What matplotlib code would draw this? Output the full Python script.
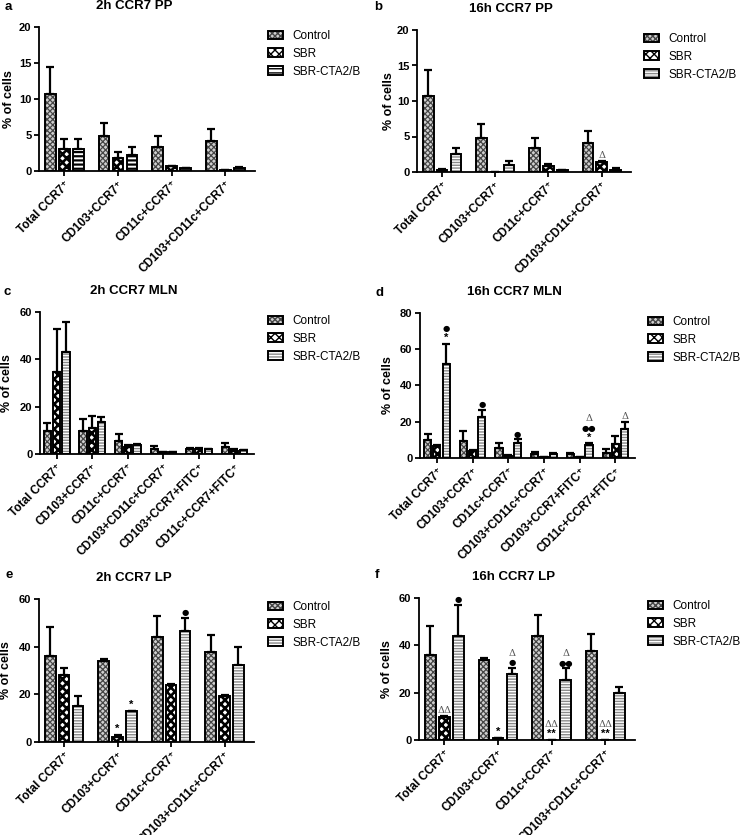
import numpy as np
import matplotlib as mpl
import matplotlib.pyplot as plt
from matplotlib.patches import Patch

plt.rcParams['font.family'] = ['Liberation Sans', 'DejaVu Sans']
plt.rcParams['hatch.linewidth'] = 1.0

# ---- data -------------------------------------------------------------
groups = ["Control", "SBR", "SBR-CTA2/B"]
cats4 = ["Total CCR7\u207a", "CD103+CCR7\u207a", "CD11c+CCR7\u207a", "CD103+CD11c+CCR7\u207a"]
cats6 = cats4 + ["CD103+CCR7+FITC\u207a", "CD11c+CCR7+FITC\u207a"]

# a: 2h CCR7 PP
a_ctrl = [10.7, 4.8, 3.4, 4.1];   a_ctrl_err = [3.7, 1.9, 1.45, 1.75]
a_sbr = [3.1, 1.75, 0.65, 0.15];  a_sbr_err = [1.35, 0.85, 0.1, 0.05]
a_cta = [3.1, 2.2, 0.35, 0.4];    a_cta_err = [1.35, 1.15, 0.1, 0.1]

# b: 16h CCR7 PP
b_ctrl = [10.7, 4.8, 3.4, 4.05];  b_ctrl_err = [3.7, 1.9, 1.45, 1.75]
b_sbr = [0.3, 0.0, 0.85, 1.45];   b_sbr_err = [0.15, 0.0, 0.25, 0.15]
b_cta = [2.5, 0.95, 0.3, 0.35];   b_cta_err = [0.95, 0.55, 0.05, 0.15]

# c: 2h CCR7 MLN
c_ctrl = [9.9, 9.7, 5.3, 2.0, 2.3, 3.0];   c_ctrl_err = [3.2, 4.9, 3.0, 1.5, 0.3, 1.8]
c_sbr = [34.5, 11.0, 3.0, 0.8, 2.3, 1.2];  c_sbr_err = [18.2, 5.0, 0.7, 0.2, 0.3, 1.1]
c_cta = [43.2, 13.4, 3.8, 0.8, 2.1, 1.5];  c_cta_err = [12.6, 2.2, 0.3, 0.1, 0.2, 0.3]

# d: 16h CCR7 MLN
d_ctrl = [10.1, 9.6, 5.3, 2.0, 2.3, 3.0];  d_ctrl_err = [2.9, 5.2, 3.0, 1.5, 0.3, 1.7]
d_sbr = [6.7, 4.0, 1.2, 0.5, 0.6, 7.5];    d_sbr_err = [0.5, 0.5, 0.3, 0.1, 0.1, 4.8]
d_cta = [52.0, 22.5, 8.5, 2.3, 7.2, 15.8]; d_cta_err = [11.0, 4.0, 1.8, 0.3, 1.0, 4.0]

# e: 2h CCR7 LP
e_ctrl = [36.0, 34.0, 44.0, 37.6]; e_ctrl_err = [12.2, 0.8, 8.7, 7.1]
e_sbr = [28.0, 2.3, 24.0, 19.3];   e_sbr_err = [3.0, 0.7, 0.5, 0.4]
e_cta = [15.2, 12.9, 46.5, 32.2];  e_cta_err = [4.0, 0.2, 5.5, 7.8]

# f: 16h CCR7 LP
f_ctrl = [36.0, 34.0, 44.0, 37.6]; f_ctrl_err = [12.3, 0.7, 8.8, 7.2]
f_sbr = [9.8, 0.8, 0.1, 0.1];      f_sbr_err = [0.4, 0.2, 0.0, 0.0]
f_cta = [44.0, 27.7, 25.4, 19.7];  f_cta_err = [13.2, 2.7, 4.9, 2.9]

# significance marks: (category, series, symbols bottom->top)
b_marks = [(3, 1, ["\u0394"])]
d_marks = [(0, 2, ["*", "\u25cf"]), (1, 2, ["\u25cf"]), (2, 2, ["\u25cf"]),
           (4, 2, ["*", "\u25cf\u25cf", "\u0394"]), (5, 2, ["\u0394"])]
e_marks = [(1, 1, ["*"]), (1, 2, ["*"]), (2, 2, ["\u25cf"])]
f_marks = [(0, 1, ["\u0394\u0394"]), (0, 2, ["\u25cf"]), (1, 1, ["*"]),
           (1, 2, ["\u25cf", "\u0394"]), (2, 1, ["**", "\u0394\u0394"]),
           (2, 2, ["\u25cf\u25cf", "\u0394"]), (3, 1, ["**", "\u0394\u0394"])]

W, H = 740, 835
fig = plt.figure(figsize=(W / 100, H / 100), dpi=100)


def px_axes(x0, y0, x1, y1):
    return fig.add_axes([x0 / W, 1 - y1 / H, (x1 - x0) / W, (y1 - y0) / H])


def styles(dark_stripes):
    # (face, hatch colour, hatch, hatch linewidth)
    ctrl = ("#d0d0d0", "#454545", "xxxxxx", 0.9)
    sbr = ("white", "black", "xxxx", 1.9)
    if dark_stripes:
        cta = ("white", "black", "----", 1.6)
    else:
        cta = ("white", "#8a8a8a", "------", 1.0)
    return [ctrl, sbr, cta]


def draw_panel(ax, letter, title, cats, vals, errs, ymax, ystep, marks,
               leg_xy, ylab_x, dark_stripes=False):
    n = len(cats)
    x = np.arange(n)
    offs = [-0.26, 0.0, 0.26]
    st = styles(dark_stripes)
    handles = []
    for k in range(3):
        fc, hc, ht, hlw = st[k]
        with mpl.rc_context({"hatch.linewidth": hlw}):
            ax.bar(x + offs[k], vals[k], 0.2, color=fc, edgecolor=hc, hatch=ht,
                   linewidth=0, zorder=2)
            handles.append((Patch(facecolor=fc, edgecolor=hc, hatch=ht, linewidth=0),
                            Patch(fill=False, edgecolor="black", linewidth=1.4)))
        ax.bar(x + offs[k], vals[k], 0.2, fill=False, edgecolor="black",
               linewidth=1.4, zorder=3)
        ax.errorbar(x + offs[k], vals[k], yerr=[np.zeros(n), errs[k]],
                    fmt="none", ecolor="black", elinewidth=1.6, capsize=2.6,
                    capthick=1.6, zorder=4)
    for (ci, si, syms) in marks:
        top = vals[si][ci] + errs[si][ci]
        off = 0.5
        for s in syms:
            if "\u0394" in s:
                kw = dict(fontsize=7, color="#555555", family="DejaVu Serif")
                step = 8
            elif "\u25cf" in s:
                kw = dict(fontsize=6, color="black", family="DejaVu Sans")
                step = 7
            else:
                kw = dict(fontsize=8, color="black", fontweight="bold")
                step = 7
            ax.annotate(s, xy=(x[ci] + offs[si], top), xytext=(0, off),
                        textcoords="offset points", ha="center", va="bottom",
                        zorder=5, **kw)
            off += step
    ax.set_xlim(-0.47, n - 0.45)
    ax.set_ylim(0, ymax)
    ax.set_yticks(np.arange(0, ymax + 1, ystep))
    ax.set_xticks(x)
    ax.set_xticklabels(cats, rotation=45, ha="right", rotation_mode="anchor",
                       fontsize=8.5, fontweight="bold")
    for lab in ax.get_yticklabels():
        lab.set_fontweight("bold")
        lab.set_fontsize(8)
    ax.spines["top"].set_visible(False)
    ax.spines["right"].set_visible(False)
    ax.spines["left"].set_linewidth(1.3)
    ax.spines["bottom"].set_linewidth(1.3)
    ax.tick_params(width=1.3, length=3.5, pad=2)
    ax.set_ylabel("% of cells", fontsize=9, fontweight="bold")
    ax.yaxis.set_label_coords(ylab_x, 0.5)
    ax.annotate(title, xy=(0.44, 1), xycoords="axes fraction", xytext=(0, 15),
                textcoords="offset points", ha="center", va="center",
                fontsize=9.5, fontweight="bold")
    ax.legend(handles, groups, loc="upper left",
              bbox_to_anchor=(leg_xy[0] / W, 1 - leg_xy[1] / H),
              bbox_transform=fig.transFigure, frameon=False, fontsize=8.5,
              handlelength=1.3, handleheight=0.75, handletextpad=0.8,
              labelspacing=0.5, borderpad=0, borderaxespad=0)
    fig.text(letter[1] / W, 1 - letter[2] / H, letter[0], fontsize=9.5,
             fontweight="bold", ha="left", va="center")


ax_a = px_axes(39, 27, 255, 171)
draw_panel(ax_a, ("a", 5, 7), "2h CCR7 PP", cats4,
           [a_ctrl, a_sbr, a_cta], [a_ctrl_err, a_sbr_err, a_cta_err],
           20, 5, [], (268, 30), -0.11, dark_stripes=True)

ax_b = px_axes(417, 30, 631, 172)
draw_panel(ax_b, ("b", 374, 7), "16h CCR7 PP", cats4,
           [b_ctrl, b_sbr, b_cta], [b_ctrl_err, b_sbr_err, b_cta_err],
           20, 5, b_marks, (644, 33), -0.103)

ax_c = px_axes(40, 312, 254, 454)
draw_panel(ax_c, ("c", 4, 292), "2h CCR7 MLN", cats6,
           [c_ctrl, c_sbr, c_cta], [c_ctrl_err, c_sbr_err, c_cta_err],
           60, 20, [], (268, 315), -0.128)

ax_d = px_axes(420, 313, 635, 458)
draw_panel(ax_d, ("d", 376, 293), "16h CCR7 MLN", cats6,
           [d_ctrl, d_sbr, d_cta], [d_ctrl_err, d_sbr_err, d_cta_err],
           80, 20, d_marks, (648, 316), -0.121)

ax_e = px_axes(39, 599, 254, 742)
draw_panel(ax_e, ("e", 5, 575), "2h CCR7 LP", cats4,
           [e_ctrl, e_sbr, e_cta], [e_ctrl_err, e_sbr_err, e_cta_err],
           60, 20, e_marks, (268, 601), -0.124)

ax_f = px_axes(419, 598, 635, 740)
draw_panel(ax_f, ("f", 375, 575), "16h CCR7 LP", cats4,
           [f_ctrl, f_sbr, f_cta], [f_ctrl_err, f_sbr_err, f_cta_err],
           60, 20, f_marks, (648, 600), -0.12)

fig.savefig("out.png", dpi=100)
